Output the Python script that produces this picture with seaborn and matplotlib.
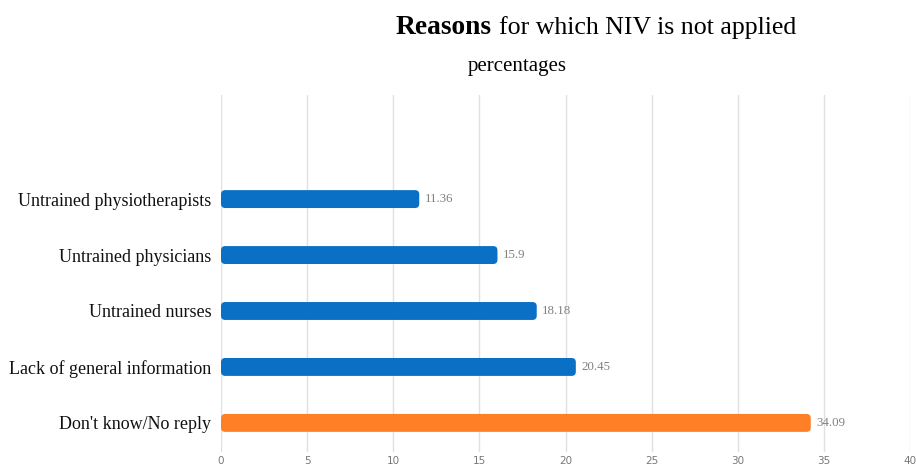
import matplotlib
matplotlib.use("Agg")
import matplotlib.pyplot as plt
from matplotlib.patches import FancyBboxPatch
import pandas as pd
import seaborn as sns

# data
reasons = ["", "Untrained physiotherapists", "Untrained physicians",
           "Untrained nurses", "Lack of general information", "Don't know/No reply"]
values = [0, 11.36, 15.9, 18.18, 20.45, 34.09]
value_labels = ["", "11.36", "15.9", "18.18", "20.45", "34.09"]
bar_colors = ["#ffffff", "#0a70c6", "#0a70c6", "#0a70c6", "#0a70c6", "#ff7f27"]
x_ticks = [0, 5, 10, 15, 20, 25, 30, 35, 40]

df = pd.DataFrame({"reason": reasons, "value": values})

sns.set_style("white")
plt.rcParams["font.family"] = ["Liberation Serif", "DejaVu Serif"]
plt.rcParams["text.color"] = "black"

fig = plt.figure(figsize=(9.16, 4.65), dpi=100)
ax = fig.add_axes([221 / 916, 1 - 452 / 465, (910 - 221) / 916, (452 - 95) / 465])

sns.barplot(data=df, y="reason", x="value", hue="reason", palette=bar_colors,
            saturation=1, legend=False, orient="h", width=0.32, ax=ax, zorder=3)

# rounded bar ends
for p in list(ax.patches):
    x0, y0 = p.get_x(), p.get_y()
    w, h = p.get_width(), p.get_height()
    fc = p.get_facecolor()
    p.remove()
    if w <= 0:
        continue
    ax.add_patch(FancyBboxPatch((x0, y0), w + 0.15, h,
                                boxstyle="round,pad=0,rounding_size=0.25",
                                mutation_aspect=0.3, facecolor=fc,
                                edgecolor="none", zorder=3))

for i, (v, lab) in enumerate(zip(values, value_labels)):
    if lab:
        ax.text(v + 0.45, i, lab, va="center", ha="left", fontsize=9.3,
                color="#808080")

ax.set_xlim(0, 40)
ax.set_ylim(5.52, -0.86)
ax.set_xticks(x_ticks)
ax.set_xticklabels([str(t) for t in x_ticks], fontsize=7.5, color="#777777",
                   family="DejaVu Sans")
ax.xaxis.grid(True, color="#e0e0e0", linewidth=1, zorder=0)
ax.tick_params(axis="x", length=0, pad=3)
ax.tick_params(axis="y", length=0, pad=7, labelsize=13, labelcolor="#111111")
ax.set_xlabel("")
ax.set_ylabel("")
for s in ax.spines.values():
    s.set_visible(False)

fig.text(492 / 916, 1 - 28 / 465, "Reasons", ha="right", va="center",
         fontsize=19.8, fontweight="bold")
fig.text(499 / 916, 1 - 28 / 465, "for which NIV is not applied", ha="left",
         va="center", fontsize=18.6)
fig.text(517 / 916, 1 - 67 / 465, "percentages", ha="center", va="center",
         fontsize=15)

fig.savefig("out.png", dpi=100)
